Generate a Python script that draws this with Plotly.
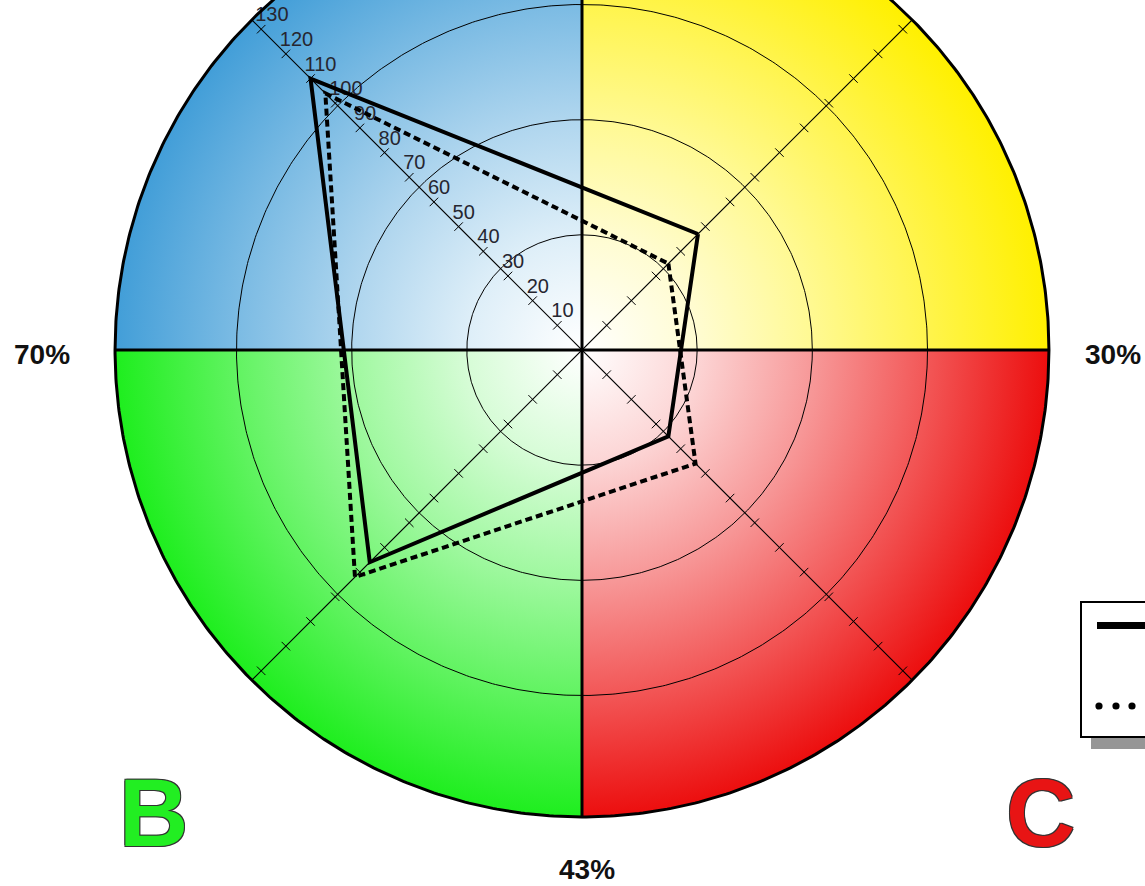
import base64
import numpy as np
import plotly.graph_objects as go

# ---- data -----------------------------------------------------------------
categories = ["NE", "SE", "SW", "NW"]          # the four diagonal axes
axis_angles = [45, -45, -135, 135]             # degrees, counter-clockwise from east
solid_values = [47, 35, 86, 110]
dashed_values = [35, 46, 92, 104]
tick_values = list(range(10, 140, 10))
ring_values = [33, 66, 99]
outer_value = 133.8
side_labels = ["70%", "30%", "43%"]
quadrant_letters = ["B", "C"]

# ---- canvas geometry ------------------------------------------------------
W, H = 1145, 886
CX, CY = 582, 350          # pixel position of the chart centre
PX = 3.49                  # pixels per value unit


def px(n):
    return n / PX


def polar_xy(values, angles):
    a = np.radians(angles)
    v = np.asarray(values, dtype=float)
    return v * np.cos(a), v * np.sin(a)


fig = go.Figure()

# ---- quadrant background with radial gradients ---------------------------
def gradient(gid, rgb):
    stops = [(0.0, 0.0), (0.25, 0.18), (0.5, 0.43), (0.75, 0.71), (1.0, 1.0)]
    out = f"<radialGradient id='{gid}' gradientUnits='userSpaceOnUse' cx='0' cy='0' r='1000'>"
    for off, k in stops:
        c = [round(255 + (ch - 255) * k) for ch in rgb]
        out += f"<stop offset='{off}' stop-color='rgb({c[0]},{c[1]},{c[2]})'/>"
    return out + "</radialGradient>"


quadrants = [
    ("gy", (255, 240, 0), "M0 0 L1000 0 A1000 1000 0 0 0 0 -1000 Z"),
    ("gb", (66, 158, 216), "M0 0 L0 -1000 A1000 1000 0 0 0 -1000 0 Z"),
    ("gg", (30, 238, 30), "M0 0 L-1000 0 A1000 1000 0 0 0 0 1000 Z"),
    ("gr", (236, 14, 14), "M0 0 L0 1000 A1000 1000 0 0 0 1000 0 Z"),
]
svg = ("<svg xmlns='http://www.w3.org/2000/svg' viewBox='-1000 -1000 2000 2000' "
       "width='2000' height='2000' preserveAspectRatio='none'><defs>")
svg += "".join(gradient(g, c) for g, c, _ in quadrants)
svg += "</defs>"
svg += "".join(f"<path d='{d}' fill='url(#{g})'/>" for g, _, d in quadrants)
svg += "</svg>"
fig.add_layout_image(
    source="data:image/svg+xml;base64," + base64.b64encode(svg.encode()).decode(),
    xref="x", yref="y", x=-outer_value, y=outer_value,
    sizex=2 * outer_value, sizey=2 * outer_value,
    xanchor="left", yanchor="top", sizing="stretch", layer="below",
)

# ---- rings ---------------------------------------------------------------
theta = np.linspace(0, 2 * np.pi, 721)
for r in ring_values:
    fig.add_trace(go.Scatter(x=r * np.cos(theta), y=r * np.sin(theta), mode="lines",
                             line=dict(color="black", width=1), hoverinfo="skip",
                             showlegend=False))

# ---- diagonal axes with tick marks ---------------------------------------
for a in (45, 135):
    dx, dy = np.cos(np.radians(a)), np.sin(np.radians(a))
    fig.add_trace(go.Scatter(x=[-outer_value * dx, outer_value * dx],
                             y=[-outer_value * dy, outer_value * dy], mode="lines",
                             line=dict(color="black", width=1.2), hoverinfo="skip",
                             showlegend=False))

tx, ty = [], []
half = px(6)
for a in axis_angles:
    ux, uy = np.cos(np.radians(a)), np.sin(np.radians(a))
    nx, ny = -uy, ux
    for v in tick_values:
        tx += [v * ux - half * nx, v * ux + half * nx, None]
        ty += [v * uy - half * ny, v * uy + half * ny, None]
fig.add_trace(go.Scatter(x=tx, y=ty, mode="lines", line=dict(color="black", width=1),
                         hoverinfo="skip", showlegend=False))

# tick labels along the NW axis
lx, ly = polar_xy(tick_values, [135] * len(tick_values))
fig.add_trace(go.Scatter(
    x=lx - px(6), y=ly + px(13), mode="text", text=[str(v) for v in tick_values],
    textposition="middle right",
    textfont=dict(family="Liberation Sans, Arial, sans-serif", size=20, color="#262630"),
    hoverinfo="skip", showlegend=False))

# ---- quadrant dividers and outer rim ------------------------------------
fig.add_trace(go.Scatter(x=[-outer_value, outer_value], y=[0, 0], mode="lines",
                         line=dict(color="black", width=3), hoverinfo="skip", showlegend=False))
fig.add_trace(go.Scatter(x=[0, 0], y=[-outer_value, outer_value], mode="lines",
                         line=dict(color="black", width=3), hoverinfo="skip", showlegend=False))
fig.add_trace(go.Scatter(x=outer_value * np.cos(theta), y=outer_value * np.sin(theta),
                         mode="lines", line=dict(color="black", width=3), hoverinfo="skip",
                         showlegend=False))

# ---- series polygons -----------------------------------------------------
sx, sy = polar_xy(solid_values + solid_values[:1], axis_angles + axis_angles[:1])
dx_, dy_ = polar_xy(dashed_values + dashed_values[:1], axis_angles + axis_angles[:1])
fig.add_trace(go.Scatter(x=dx_, y=dy_, mode="lines", name="Series 2",
                         line=dict(color="black", width=4, dash="7px,4px"), showlegend=False))
fig.add_trace(go.Scatter(x=sx, y=sy, mode="lines", name="Series 1",
                         line=dict(color="black", width=4), showlegend=False))

# ---- legend box (partly off the right edge) -------------------------------
def pxx(x):
    return x / W


def pxy(y):
    return 1 - y / H


shapes = [
    dict(type="rect", xref="paper", yref="paper", x0=pxx(1091), x1=pxx(1160),
         y0=pxy(749), y1=pxy(737), fillcolor="#969696", line=dict(width=0)),
    dict(type="rect", xref="paper", yref="paper", x0=pxx(1081), x1=pxx(1160),
         y0=pxy(737), y1=pxy(602), fillcolor="white", line=dict(color="black", width=2)),
    dict(type="line", xref="paper", yref="paper", x0=pxx(1097), x1=pxx(1160),
         y0=pxy(625.5), y1=pxy(625.5), line=dict(color="black", width=7)),
]
for cx in (1099, 1116, 1132, 1149):
    shapes.append(dict(type="circle", xref="paper", yref="paper",
                       x0=pxx(cx - 3.6), x1=pxx(cx + 3.6), y0=pxy(706 + 3.6), y1=pxy(706 - 3.6),
                       fillcolor="black", line=dict(width=0)))
fig.update_layout(shapes=shapes)

# ---- outer labels --------------------------------------------------------
bold = "Liberation Sans, Arial, sans-serif"
for text, (x, y) in zip(side_labels, [(42, 354), (1113, 354), (587, 869)]):
    fig.add_annotation(x=pxx(x), y=pxy(y), xref="paper", yref="paper", text=f"<b>{text}</b>",
                       showarrow=False, xanchor="center", yanchor="middle",
                       font=dict(family=bold, size=28, color="#111111"))

outline = "1px 1px 0 #333, -1px -1px 0 #333, 1px -1px 0 #333, -1px 1px 0 #333"
for text, (x, y), col in zip(quadrant_letters, [(153, 812), (1040, 812)], ["#22ee22", "#e81414"]):
    fig.add_annotation(x=pxx(x), y=pxy(y), xref="paper", yref="paper", text=f"<b>{text}</b>",
                       showarrow=False, xanchor="center", yanchor="middle",
                       font=dict(family=bold, size=96, color=col, shadow=outline))

fig.update_layout(
    width=W, height=H, margin=dict(l=0, r=0, t=0, b=0),
    paper_bgcolor="white", plot_bgcolor="white",
    xaxis=dict(range=[-px(CX), px(W - CX)], visible=False, fixedrange=True),
    yaxis=dict(range=[-px(H - CY), px(CY)], visible=False, fixedrange=True),
    showlegend=False,
)

fig.write_html("out.html")
